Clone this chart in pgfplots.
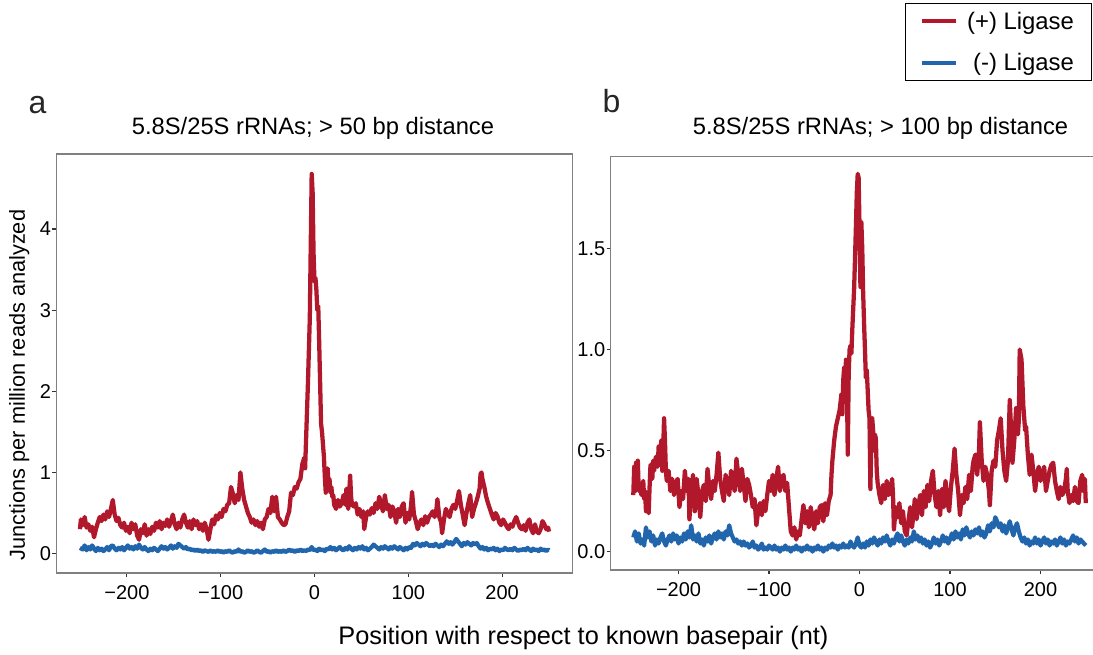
\documentclass[border=0pt]{standalone}
\usepackage{pgfplots}
\pgfplotsset{compat=1.18}
\usepackage{fontspec}
\setmainfont{Liberation Sans}
\definecolor{ligred}{RGB}{178,24,43}
\definecolor{ligblue}{RGB}{33,102,172}
\definecolor{framegray}{RGB}{128,128,128}
\pgfplotsset{
  panel/.style={
    scale only axis,
    axis line style={framegray, line width=1.1pt},
    tick align=outside, xtick pos=left, ytick pos=left,
    major tick length=3pt,
    tick style={black!80, line width=0.9pt},
    ticklabel style={font=\fontsize{15}{18}\selectfont, text=black},
    xticklabel style={yshift=-3pt},
    yticklabel style={xshift=2.5pt},
    xmin=-275, xmax=275,
    xtick={-200,-100,0,100,200},
    xticklabels={−200,−100,0,100,200},
    every axis plot/.append style={line width=3.2pt, line join=round},
  },
}
\begin{document}
\begin{tikzpicture}[x=0.75pt,y=0.75pt]
\useasboundingbox (0,0) rectangle (1093,655);
\clip (0,0) rectangle (1093,655);

\begin{axis}[panel,
  at={(42.375pt,61.5pt)}, anchor=south west,
  width=387pt, height=314.25pt,
  ymin=-0.24, ymax=4.926,
  ytick={0,1,2,3,4}, yticklabels={0,1,2,3,4},
  legend style={at={(2.0068,1.3604)}, anchor=north east, draw=black, line width=1.1pt,
    fill=white, font=\fontsize{17.9}{21}\selectfont, inner xsep=11pt, inner ysep=4pt,
    row sep=12.5pt, cells={anchor=east}},
  legend image code/.code={\draw[#1] (0pt,0pt) -- (25.5pt,0pt); \path (30pt,0pt);},
]
\addplot[ligred] coordinates {(-250,0.30)(-249,0.42)(-247,0.35)(-245,0.45)(-243,0.32)(-241,0.36)(-239,0.28)(-237,0.33)(-235,0.20)(-233,0.30)(-231,0.38)(-229,0.45)(-227,0.40)(-225,0.48)(-223,0.42)(-221,0.52)(-219,0.45)(-217,0.55)(-215,0.66)(-213,0.48)(-211,0.40)(-209,0.44)(-207,0.35)(-205,0.32)(-203,0.38)(-201,0.28)(-199,0.33)(-197,0.25)(-195,0.38)(-193,0.30)(-191,0.36)(-189,0.22)(-187,0.17)(-185,0.30)(-183,0.25)(-181,0.36)(-179,0.22)(-177,0.30)(-175,0.24)(-173,0.33)(-171,0.28)(-169,0.38)(-167,0.32)(-165,0.40)(-163,0.30)(-161,0.38)(-159,0.34)(-157,0.42)(-155,0.33)(-153,0.40)(-151,0.48)(-149,0.36)(-147,0.30)(-145,0.38)(-143,0.32)(-141,0.42)(-139,0.48)(-137,0.38)(-135,0.32)(-133,0.40)(-131,0.30)(-129,0.42)(-127,0.35)(-125,0.40)(-123,0.30)(-121,0.36)(-119,0.28)(-117,0.38)(-115,0.30)(-113,0.17)(-111,0.30)(-109,0.42)(-107,0.36)(-105,0.47)(-103,0.42)(-101,0.50)(-99,0.45)(-97,0.55)(-95,0.52)(-93,0.60)(-91,0.62)(-89,0.82)(-87,0.74)(-85,0.62)(-83,0.72)(-81,0.66)(-79,1.00)(-77,0.80)(-75,0.66)(-73,0.58)(-71,0.50)(-69,0.45)(-67,0.38)(-65,0.42)(-63,0.35)(-61,0.40)(-59,0.33)(-57,0.38)(-55,0.30)(-53,0.42)(-51,0.45)(-49,0.55)(-47,0.50)(-45,0.70)(-43,0.52)(-41,0.70)(-39,0.45)(-37,0.42)(-35,0.38)(-33,0.35)(-31,0.36)(-29,0.45)(-27,0.52)(-25,0.75)(-23,0.72)(-21,0.82)(-19,0.80)(-17,0.88)(-15,0.92)(-13,1.10)(-11,1.18)(-10,1.05)(-9,1.40)(-8,1.75)(-7,2.10)(-6,2.50)(-5,2.90)(-4,3.80)(-3,4.68)(-2,4.45)(-1,3.70)(0,3.35)(1,3.40)(2,3.25)(3,3.00)(4,3.05)(5,2.60)(6,2.10)(7,1.60)(8,1.50)(9,1.35)(10,1.20)(11,0.95)(12,0.75)(13,0.95)(14,1.05)(15,0.85)(16,0.92)(17,0.75)(18,0.82)(19,0.70)(20,0.72)(21,0.60)(23,0.55)(25,0.66)(27,0.58)(29,0.62)(31,0.72)(33,0.60)(34,0.80)(35,0.65)(36,0.55)(37,0.75)(38,0.96)(39,0.70)(40,0.60)(42,0.58)(44,0.62)(46,0.48)(48,0.55)(50,0.45)(52,0.52)(53,0.30)(55,0.45)(57,0.52)(59,0.48)(61,0.56)(63,0.50)(65,0.62)(67,0.55)(69,0.70)(71,0.60)(73,0.52)(75,0.72)(77,0.55)(79,0.60)(81,0.45)(83,0.58)(85,0.52)(87,0.38)(89,0.55)(91,0.45)(93,0.58)(95,0.62)(97,0.38)(99,0.50)(101,0.42)(103,0.60)(104,0.76)(106,0.48)(108,0.40)(110,0.30)(112,0.38)(114,0.42)(116,0.35)(118,0.46)(120,0.38)(122,0.45)(124,0.48)(126,0.52)(128,0.45)(130,0.55)(131,0.67)(133,0.45)(135,0.38)(136,0.25)(138,0.42)(140,0.55)(142,0.50)(144,0.45)(146,0.55)(148,0.60)(150,0.55)(152,0.65)(154,0.77)(156,0.60)(158,0.48)(160,0.35)(162,0.50)(164,0.62)(166,0.72)(168,0.45)(170,0.55)(172,0.62)(174,0.70)(176,0.80)(177,0.98)(178,1.00)(179,0.92)(181,0.82)(183,0.70)(185,0.62)(187,0.55)(189,0.48)(191,0.42)(193,0.50)(195,0.46)(197,0.38)(199,0.35)(201,0.42)(203,0.38)(205,0.33)(207,0.30)(209,0.36)(211,0.33)(213,0.40)(215,0.45)(217,0.38)(219,0.32)(221,0.30)(223,0.35)(225,0.28)(227,0.38)(229,0.42)(231,0.30)(233,0.25)(235,0.36)(237,0.27)(239,0.25)(241,0.30)(243,0.40)(245,0.36)(247,0.30)(249,0.32)(250,0.27)};
\addlegendentry{(+) Ligase}
\addplot[ligblue] coordinates {(-250,0.07)(-247,0.05)(-245,0.10)(-243,0.04)(-241,0.08)(-239,0.05)(-237,0.10)(-235,0.06)(-233,0.03)(-231,0.07)(-229,0.04)(-227,0.06)(-225,0.03)(-223,0.05)(-221,0.08)(-219,0.04)(-217,0.09)(-215,0.10)(-213,0.06)(-211,0.04)(-209,0.07)(-207,0.05)(-205,0.08)(-203,0.04)(-201,0.07)(-199,0.10)(-197,0.06)(-195,0.08)(-193,0.05)(-191,0.09)(-189,0.06)(-187,0.11)(-185,0.07)(-183,0.05)(-181,0.08)(-179,0.05)(-177,0.03)(-175,0.06)(-173,0.04)(-171,0.07)(-169,0.05)(-167,0.03)(-165,0.06)(-163,0.09)(-161,0.06)(-159,0.08)(-157,0.05)(-155,0.07)(-153,0.10)(-151,0.06)(-149,0.09)(-147,0.07)(-145,0.12)(-143,0.10)(-141,0.08)(-139,0.06)(-137,0.08)(-135,0.05)(-133,0.06)(-131,0.04)(-129,0.05)(-127,0.03)(-125,0.05)(-123,0.03)(-121,0.04)(-119,0.02)(-117,0.04)(-115,0.03)(-113,0.02)(-111,0.04)(-109,0.02)(-107,0.03)(-105,0.02)(-103,0.04)(-101,0.02)(-99,0.03)(-97,0.01)(-95,0.03)(-93,0.02)(-91,0.04)(-89,0.02)(-87,0.01)(-85,0.03)(-83,0.02)(-81,0.05)(-79,0.02)(-77,0.03)(-75,0.01)(-73,0.02)(-71,0.04)(-69,0.02)(-67,0.03)(-65,0.01)(-63,0.02)(-61,0.04)(-59,0.02)(-57,0.01)(-55,0.03)(-53,0.05)(-51,0.02)(-49,0.03)(-47,0.01)(-45,0.03)(-43,0.02)(-41,0.04)(-39,0.02)(-37,0.03)(-35,0.02)(-33,0.04)(-31,0.02)(-29,0.03)(-27,0.05)(-25,0.03)(-23,0.04)(-21,0.02)(-19,0.04)(-17,0.03)(-15,0.05)(-13,0.03)(-11,0.04)(-9,0.03)(-7,0.05)(-5,0.04)(-3,0.08)(-1,0.04)(1,0.05)(3,0.03)(5,0.06)(7,0.04)(9,0.05)(11,0.03)(13,0.06)(15,0.05)(17,0.08)(19,0.05)(21,0.07)(23,0.04)(25,0.06)(27,0.08)(29,0.05)(31,0.04)(33,0.07)(35,0.05)(37,0.09)(39,0.06)(41,0.04)(43,0.07)(45,0.05)(47,0.08)(49,0.06)(51,0.09)(53,0.05)(55,0.07)(57,0.04)(59,0.06)(61,0.08)(63,0.11)(65,0.09)(67,0.07)(69,0.05)(71,0.08)(73,0.06)(75,0.09)(77,0.07)(79,0.05)(81,0.08)(83,0.06)(85,0.09)(87,0.07)(89,0.05)(91,0.08)(93,0.06)(95,0.04)(97,0.07)(99,0.05)(101,0.08)(103,0.07)(105,0.12)(107,0.10)(109,0.13)(111,0.11)(113,0.09)(115,0.12)(117,0.10)(119,0.13)(121,0.11)(123,0.09)(125,0.11)(127,0.09)(129,0.12)(131,0.10)(133,0.08)(135,0.11)(137,0.09)(139,0.12)(141,0.15)(143,0.12)(145,0.14)(147,0.11)(149,0.14)(151,0.18)(153,0.15)(155,0.12)(157,0.09)(159,0.13)(161,0.11)(163,0.14)(165,0.12)(167,0.10)(169,0.13)(171,0.11)(173,0.13)(175,0.09)(177,0.06)(179,0.08)(181,0.05)(183,0.07)(185,0.04)(187,0.06)(189,0.05)(191,0.07)(193,0.04)(195,0.06)(197,0.03)(199,0.05)(201,0.04)(203,0.07)(205,0.05)(207,0.04)(209,0.06)(211,0.04)(213,0.07)(215,0.05)(217,0.03)(219,0.05)(221,0.04)(223,0.06)(225,0.04)(227,0.07)(229,0.05)(231,0.03)(233,0.06)(235,0.04)(237,0.05)(239,0.03)(241,0.06)(243,0.04)(245,0.05)(247,0.03)(249,0.05)(250,0.04)};
\addlegendentry{(-) Ligase}
\end{axis}

\begin{axis}[panel,
  at={(458.0pt,63.75pt)}, anchor=south west,
  width=373.3pt, height=310pt,
  ymin=-0.091, ymax=1.955,
  ytick={0,0.5,1,1.5}, yticklabels={0.0,0.5,1.0,1.5},
]
\addplot[ligred] coordinates {(-250,0.28)(-249,0.42)(-248,0.30)(-247,0.44)(-246,0.32)(-245,0.45)(-244,0.30)(-243,0.34)(-241,0.28)(-239,0.35)(-238,0.26)(-237,0.30)(-236,0.20)(-235,0.28)(-233,0.19)(-232,0.32)(-231,0.43)(-229,0.36)(-228,0.45)(-227,0.40)(-225,0.47)(-223,0.42)(-222,0.52)(-221,0.45)(-219,0.55)(-218,0.40)(-217,0.50)(-216,0.66)(-215,0.55)(-214,0.40)(-213,0.35)(-211,0.40)(-209,0.30)(-207,0.36)(-205,0.28)(-203,0.34)(-201,0.36)(-199,0.22)(-197,0.30)(-195,0.26)(-193,0.40)(-191,0.30)(-189,0.36)(-188,0.16)(-186,0.30)(-184,0.38)(-182,0.20)(-180,0.36)(-178,0.28)(-176,0.17)(-174,0.30)(-172,0.33)(-170,0.25)(-168,0.41)(-166,0.32)(-164,0.26)(-162,0.35)(-160,0.30)(-158,0.38)(-156,0.49)(-154,0.36)(-152,0.30)(-150,0.25)(-148,0.38)(-146,0.33)(-144,0.28)(-142,0.40)(-140,0.35)(-138,0.30)(-136,0.46)(-134,0.38)(-132,0.30)(-130,0.41)(-128,0.33)(-126,0.25)(-124,0.36)(-122,0.33)(-120,0.28)(-118,0.22)(-116,0.26)(-114,0.13)(-112,0.20)(-110,0.24)(-108,0.18)(-106,0.25)(-104,0.20)(-102,0.28)(-100,0.35)(-98,0.30)(-96,0.38)(-94,0.28)(-92,0.36)(-90,0.42)(-88,0.30)(-86,0.36)(-84,0.38)(-82,0.30)(-80,0.34)(-78,0.22)(-76,0.10)(-74,0.08)(-72,0.12)(-70,0.06)(-68,0.10)(-66,0.08)(-64,0.16)(-62,0.23)(-60,0.14)(-58,0.20)(-56,0.12)(-54,0.22)(-52,0.16)(-50,0.11)(-48,0.20)(-46,0.14)(-44,0.22)(-42,0.23)(-40,0.15)(-38,0.24)(-36,0.18)(-34,0.25)(-32,0.28)(-31,0.38)(-30,0.45)(-28,0.55)(-26,0.62)(-24,0.66)(-22,0.70)(-20,0.78)(-19,0.68)(-18,0.85)(-17,0.91)(-16,0.80)(-15,0.95)(-14,0.85)(-13,0.48)(-12,0.88)(-11,1.00)(-10,1.02)(-9,0.98)(-8,1.10)(-7,1.20)(-6,1.30)(-5,1.45)(-4,1.61)(-3,1.78)(-2,1.87)(-1,1.85)(0,1.60)(1,1.31)(2,1.63)(3,1.50)(4,1.28)(5,1.13)(6,1.00)(7,0.86)(8,0.90)(9,0.80)(10,0.70)(11,0.66)(12,0.31)(13,0.55)(14,0.66)(15,0.60)(16,0.50)(17,0.58)(18,0.56)(19,0.40)(20,0.34)(22,0.28)(24,0.24)(26,0.33)(28,0.26)(30,0.35)(32,0.28)(34,0.30)(36,0.36)(37,0.28)(38,0.11)(40,0.22)(42,0.17)(44,0.24)(46,0.14)(48,0.20)(50,0.10)(52,0.08)(54,0.15)(56,0.22)(58,0.12)(60,0.20)(61,0.26)(63,0.16)(65,0.23)(67,0.28)(69,0.18)(71,0.30)(73,0.22)(75,0.33)(77,0.25)(79,0.35)(81,0.40)(83,0.28)(85,0.22)(87,0.30)(89,0.18)(91,0.31)(93,0.22)(95,0.35)(97,0.25)(99,0.20)(101,0.32)(103,0.40)(105,0.51)(107,0.38)(109,0.30)(111,0.18)(113,0.28)(115,0.24)(117,0.32)(119,0.26)(121,0.38)(123,0.30)(125,0.42)(126,0.45)(128,0.48)(130,0.38)(132,0.50)(133,0.64)(135,0.45)(137,0.35)(139,0.42)(141,0.38)(143,0.30)(144,0.23)(146,0.40)(148,0.45)(150,0.42)(152,0.55)(154,0.60)(156,0.66)(158,0.50)(160,0.40)(162,0.35)(164,0.45)(166,0.75)(168,0.55)(169,0.44)(171,0.55)(173,0.71)(175,0.58)(176,0.65)(177,1.00)(179,0.95)(181,0.72)(183,0.60)(184,0.62)(186,0.48)(188,0.38)(190,0.48)(192,0.40)(194,0.30)(196,0.38)(198,0.42)(200,0.35)(202,0.38)(204,0.42)(206,0.30)(208,0.35)(210,0.40)(212,0.43)(214,0.44)(216,0.35)(218,0.30)(220,0.26)(222,0.32)(224,0.28)(226,0.30)(228,0.36)(229,0.41)(230,0.30)(232,0.24)(234,0.28)(236,0.25)(238,0.32)(240,0.25)(242,0.24)(244,0.35)(246,0.38)(247,0.30)(249,0.36)(250,0.24)};
\addplot[ligblue] coordinates {(-250,0.07)(-248,0.10)(-246,0.05)(-244,0.09)(-242,0.04)(-240,0.06)(-238,0.03)(-236,0.12)(-234,0.07)(-232,0.10)(-230,0.05)(-228,0.08)(-226,0.03)(-224,0.06)(-222,0.04)(-220,0.07)(-218,0.09)(-216,0.05)(-214,0.03)(-212,0.06)(-210,0.08)(-208,0.05)(-206,0.09)(-204,0.06)(-202,0.08)(-200,0.04)(-198,0.07)(-196,0.05)(-194,0.09)(-192,0.06)(-190,0.10)(-188,0.07)(-186,0.13)(-184,0.06)(-182,0.08)(-180,0.05)(-178,0.09)(-176,0.04)(-174,0.06)(-172,0.03)(-170,0.07)(-168,0.05)(-166,0.08)(-164,0.04)(-162,0.07)(-160,0.09)(-158,0.06)(-156,0.10)(-154,0.07)(-152,0.09)(-150,0.06)(-148,0.10)(-146,0.08)(-144,0.13)(-142,0.09)(-140,0.07)(-138,0.05)(-136,0.06)(-134,0.04)(-132,0.05)(-130,0.03)(-128,0.05)(-126,0.03)(-124,0.04)(-122,0.02)(-120,0.03)(-118,0.05)(-116,0.02)(-114,0.03)(-112,0.01)(-110,0.02)(-108,0.04)(-106,0.01)(-104,0.02)(-102,0.01)(-100,0.03)(-98,0.02)(-96,0.01)(-94,0.03)(-92,0.01)(-90,0.02)(-88,0.00)(-86,0.02)(-84,0.01)(-82,0.03)(-80,0.01)(-78,0.02)(-76,0.00)(-74,0.02)(-72,0.01)(-70,0.03)(-68,0.01)(-66,0.02)(-64,0.00)(-62,0.02)(-60,0.01)(-58,0.03)(-56,0.01)(-54,0.02)(-52,0.00)(-50,0.02)(-48,0.01)(-46,0.03)(-44,0.01)(-42,0.02)(-40,0.00)(-38,0.02)(-36,0.01)(-34,0.03)(-32,0.02)(-30,0.04)(-28,0.02)(-26,0.03)(-24,0.01)(-22,0.03)(-20,0.02)(-18,0.04)(-16,0.02)(-14,0.03)(-12,0.02)(-10,0.05)(-8,0.03)(-6,0.02)(-4,0.04)(-2,0.07)(0,0.03)(2,0.02)(4,0.04)(6,0.02)(8,0.05)(10,0.03)(12,0.06)(14,0.04)(16,0.07)(18,0.05)(20,0.03)(22,0.06)(24,0.04)(26,0.07)(28,0.05)(30,0.08)(32,0.05)(34,0.03)(36,0.06)(38,0.04)(40,0.07)(42,0.09)(44,0.05)(46,0.08)(48,0.05)(50,0.03)(52,0.06)(54,0.04)(56,0.07)(58,0.05)(60,0.10)(62,0.06)(64,0.08)(66,0.05)(68,0.07)(70,0.04)(72,0.06)(74,0.03)(76,0.05)(78,0.02)(80,0.04)(82,0.07)(84,0.04)(86,0.06)(88,0.03)(90,0.05)(92,0.08)(94,0.05)(96,0.07)(98,0.04)(100,0.06)(102,0.09)(104,0.06)(106,0.10)(108,0.07)(110,0.09)(112,0.06)(114,0.11)(116,0.08)(118,0.12)(120,0.09)(122,0.07)(124,0.10)(126,0.08)(128,0.11)(130,0.09)(132,0.12)(134,0.08)(136,0.10)(138,0.07)(140,0.09)(142,0.13)(144,0.10)(146,0.14)(148,0.12)(150,0.17)(152,0.15)(154,0.12)(156,0.14)(158,0.10)(160,0.13)(162,0.09)(164,0.12)(166,0.15)(168,0.11)(170,0.08)(172,0.12)(174,0.14)(176,0.10)(178,0.07)(180,0.05)(182,0.07)(184,0.04)(186,0.06)(188,0.03)(190,0.05)(192,0.04)(194,0.07)(196,0.04)(198,0.06)(200,0.03)(202,0.05)(204,0.07)(206,0.04)(208,0.06)(210,0.03)(212,0.05)(214,0.04)(216,0.06)(218,0.03)(220,0.05)(222,0.07)(224,0.04)(226,0.06)(228,0.03)(230,0.05)(232,0.04)(234,0.06)(236,0.08)(238,0.05)(240,0.07)(242,0.04)(244,0.06)(246,0.05)(248,0.04)(250,0.03)};
\end{axis}

\node[anchor=base west, font=\fontsize{24}{28}\selectfont, text=black!85] at (24,541) {a};
\node[anchor=base west, font=\fontsize{24}{28}\selectfont, text=black!85] at (598,542) {b};
\node[anchor=base, font=\fontsize{17.8}{21}\selectfont] at (313,520) {5.8S/25S rRNAs; > 50 bp distance};
\node[anchor=base, font=\fontsize{17.8}{21}\selectfont] at (880.5,520) {5.8S/25S rRNAs; > 100 bp distance};
\node[anchor=base, font=\fontsize{19}{22}\selectfont] at (583.4,10) {Position with respect to known basepair (nt)};
\node[anchor=base, rotate=90, font=\fontsize{16.3}{19}\selectfont] at (25,270) {Junctions per million reads analyzed};
\end{tikzpicture}
\end{document}
